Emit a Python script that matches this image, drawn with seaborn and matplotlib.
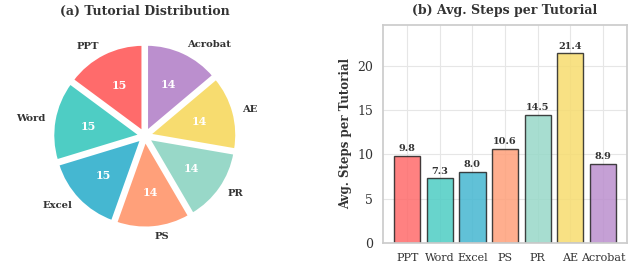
import matplotlib
matplotlib.use("Agg")
import matplotlib.pyplot as plt
import pandas as pd
import numpy as np
import seaborn as sns

# Data
tools = ["PPT", "Word", "Excel", "PS", "PR", "AE", "Acrobat"]
tutorial_counts = [15, 15, 15, 14, 14, 14, 14]
avg_steps = [9.8, 7.3, 8.0, 10.6, 14.5, 21.4, 8.9]
colors = ["#FF6B6B", "#4ECDC4", "#45B7D1", "#FFA07A", "#98D8C8", "#F7DC6F", "#BB8FCE"]

sns.set_theme(style="whitegrid")
plt.rcParams['font.family'] = ['DejaVu Serif']

fig, ax = plt.subplots(1, 2, figsize=(6.31, 2.64), dpi=100)

# (a) pie
wedges, texts, autotexts = ax[0].pie(
    tutorial_counts, labels=tools, colors=colors, startangle=90,
    autopct=lambda p: f"{int(round(p * sum(tutorial_counts) / 100))}",
    explode=[0.05] * len(tools), labeldistance=1.1, pctdistance=0.6,
    wedgeprops=dict(edgecolor="white", linewidth=2))
for t in texts:
    t.set_fontsize(7.2)
    t.set_fontweight("bold")
    t.set_color("#333333")
for t in autotexts:
    t.set_fontsize(8)
    t.set_fontweight("bold")
    t.set_color("white")
ax[0].set_title("(a) Tutorial Distribution", fontsize=9, fontweight="bold", color="#333333", pad=8)
ax[0].set_aspect("equal")
ax[0].set_xlim(-1.25, 1.25)
ax[0].set_ylim(-1.25, 1.25)

# (b) bar
df = pd.DataFrame({"tool": tools, "steps": avg_steps})
sns.barplot(data=df, x="tool", y="steps", hue="tool", palette=colors, legend=False,
            ax=ax[1], edgecolor="#222222", linewidth=1, alpha=0.85, width=0.8, saturation=1)
for p, v in zip(ax[1].patches, avg_steps):
    ax[1].text(p.get_x() + p.get_width() / 2, v + 0.3, f"{v:.1f}",
               ha="center", va="bottom", fontsize=7, fontweight="bold", color="#333333")
ax[1].set_ylim(0, max(avg_steps) * 1.15)
ax[1].set_xlim(-0.74, 6.74)
ax[1].set_title("(b) Avg. Steps per Tutorial", fontsize=9, fontweight="bold", color="#333333", pad=8)
ax[1].set_xlabel("")
ax[1].set_ylabel("Avg. Steps per Tutorial", fontsize=8.5, fontweight="bold", color="#333333")
ax[1].tick_params(axis="x", labelsize=8, pad=1, colors="#333333")
ax[1].tick_params(axis="y", labelsize=9, pad=1, colors="#333333")
ax[1].grid(True, color="#e6e6e6", linewidth=0.8)
for s in ax[1].spines.values():
    s.set_color("#cccccc")

ax[0].set_position([0.056, 0.07, 0.347, 0.83])
ax[1].set_position([0.607, 0.08, 0.387, 0.825])

fig.savefig("out.png", dpi=100)
